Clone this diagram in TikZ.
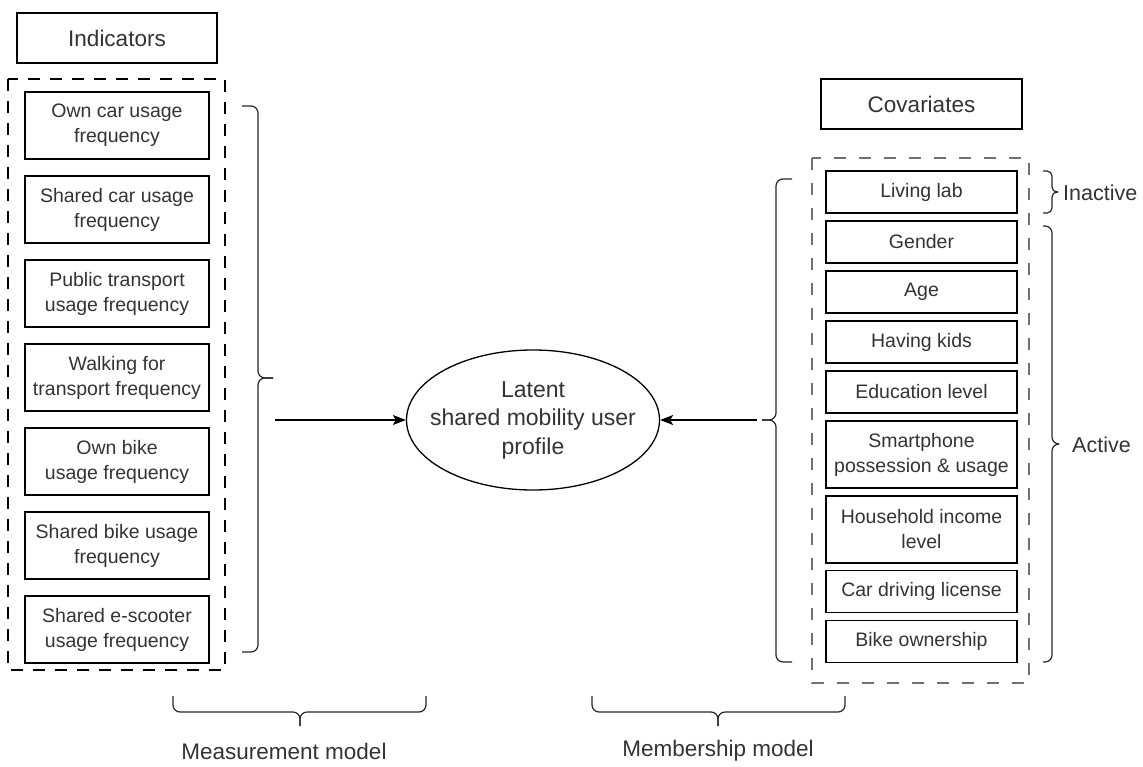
\documentclass[tikz,border=0pt]{standalone}
\usepackage{fontspec}
\setmainfont{Liberation Sans}
\usetikzlibrary{arrows.meta,shapes.geometric}

\definecolor{txtgray}{RGB}{51,51,51}
\definecolor{dashgray}{RGB}{112,112,112}

\tikzset{
	box/.style={draw=black, line width=1.3pt, inner sep=0pt, align=center, text=txtgray,
		font=\fontsize{19.5}{25}\selectfont},
	headbox/.style={box, minimum width=200pt, minimum height=50pt, font=\fontsize{22.5}{27}\selectfont},
	bracepath/.style={draw=black!85, line width=1.2pt, rounded corners=7pt},
	lbl/.style={text=txtgray, inner sep=0pt, font=\fontsize{22.5}{27}\selectfont},
	flow/.style={line width=1.3pt, -{Stealth[length=13pt,width=10pt,inset=3pt]}}
}

\begin{document}
\begin{tikzpicture}[x=1pt,y=-1pt]
		\useasboundingbox (0,0) rectangle (1143,766);
		% headers
		\node[headbox] (indhead) at (117,38) {Indicators};
		\node[headbox, minimum width=201pt] (covhead) at (921.5,104) {Covariates};
		% dashed frames
		\draw[black, line width=1.2pt, dash pattern=on 12pt off 10pt] (8,79) rectangle (225,670);
		\draw[dashgray, line width=2pt, dash pattern=on 12pt off 13pt] (812,158) rectangle (1029,683);
		% indicators
		\foreach \i/\txt in {1/{Own car usage\\frequency},2/{Shared car usage\\frequency},
				3/{Public transport\\usage frequency},4/{Walking for\\transport frequency},
				5/{Own bike\\usage frequency},6/{Shared bike usage\\frequency},
				7/{Shared e-scooter\\usage frequency}}{
			\pgfmathparse{125.5+84*(\i-1)}
			\edef\cy{\pgfmathresult}
			\node[box, minimum width=184pt, minimum height=67pt] (ind\i) at (117,\cy) {\txt};
		}
		% covariates
		\foreach \n/\cy/\h/\txt in {1/192/42/{Living lab},2/242/42/{Gender},3/292/42/{Age},
				4/342/42/{Having kids},5/392/42/{Education level},
				6/454.5/67/{Smartphone\\possession \& usage},7/529.5/67/{Household income\\level},
				8/591.5/42/{Car driving license},9/641.5/42/{Bike ownership}}{
			\node[box, minimum width=191pt, minimum height=\h pt] (cov\n) at (921.5,\cy) {\txt};
		}
		% latent class
		\node[draw=black, line width=1.3pt, ellipse, minimum width=253pt, minimum height=140pt,
			inner sep=0pt] (latent) at (533,420) {};
		\node[inner sep=0pt, align=center, text=txtgray, font=\fontsize{23}{28.5}\selectfont]
			(latenttxt) at (latent.center) {Latent\\shared mobility user\\profile};
		% braces
		\draw[bracepath] (242,106) -- (258,106) -- (258,378) -- (273,378);
		\draw[bracepath] (273,378) -- (258,378) -- (258,652) -- (242,652);
		\draw[bracepath] (792,179) -- (776,179) -- (776,420) -- (762,420);
		\draw[bracepath] (762,420) -- (776,420) -- (776,662) -- (792,662);
		\draw[bracepath, rounded corners=5pt] (1043,171) -- (1052,171) -- (1052,192) -- (1058,192);
		\draw[bracepath, rounded corners=5pt] (1058,192) -- (1052,192) -- (1052,213) -- (1043,213);
		\draw[bracepath] (1043,226) -- (1052,226) -- (1052,444) -- (1058,444);
		\draw[bracepath] (1058,444) -- (1052,444) -- (1052,662) -- (1043,662);
		\draw[bracepath] (173,696) -- (173,712) -- (300,712) -- (300,726);
		\draw[bracepath] (300,726) -- (300,712) -- (426,712) -- (426,696);
		\draw[bracepath] (592,696) -- (592,712) -- (718,712) -- (718,726);
		\draw[bracepath] (718,726) -- (718,712) -- (845,712) -- (845,696);
		% brace labels
		\node[lbl, anchor=west, font=\fontsize{21.5}{26}\selectfont] (inactive) at (1063,193) {Inactive};
		\node[lbl, anchor=west, font=\fontsize{21.5}{26}\selectfont] (active) at (1072,445) {Active};
		\node[lbl] (measure) at (284,751) {Measurement model};
		\node[lbl] (member) at (718,751) {Membership model};
		% arrows
		\coordinate (indout) at (275,420);
		\coordinate (covout) at (757,420);
		\draw[flow] (indout) -- (latent.west);
		\draw[flow] (covout) -- (latent.east);
	\end{tikzpicture}
\end{document}
